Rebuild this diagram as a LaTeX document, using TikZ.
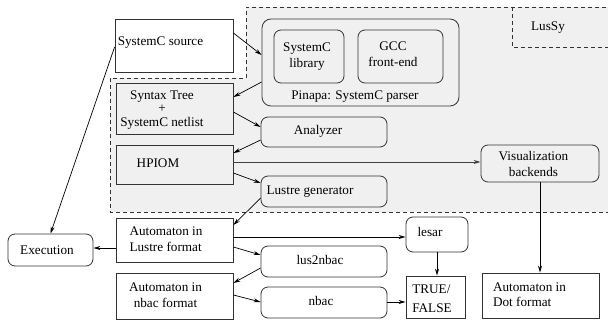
\documentclass[tikz,border=0pt]{standalone}
\usepackage{fontspec}
\setmainfont{Liberation Serif}
\usetikzlibrary{arrows.meta}
\definecolor{bgray}{HTML}{F0F0F0}
\tikzset{
  bx/.style={draw=black!80, line width=0.8pt, inner sep=0pt, minimum width=#1},
  rbx/.style={bx=#1, rounded corners=7pt},
  wfill/.style={fill=white},
  gfill/.style={fill=bgray},
  lbl/.style={inner sep=0pt, font=\fontsize{13.2}{16}\selectfont},
  arr/.style={draw=black, line width=0.7pt, -{Stealth[length=7pt,width=4pt]}},
  dsh/.style={draw=black!80, line width=0.8pt, dash pattern=on 4pt off 3pt}
}
\begin{document}
\begin{tikzpicture}[x=1pt,y=-1pt]
\useasboundingbox (0,0) rectangle (608,320);
% LusSy region
\path[fill=bgray] (246,7) -- (620,7) -- (620,212) -- (110,212) -- (110,78) -- (246,78) -- cycle;
\draw[dsh] (620,7) -- (246,7) -- (246,78) -- (110,78) -- (110,212) -- (620,212);
\draw[dsh] (512,7) -- (512,47) -- (620,47);
\node[lbl] (t-lussy) at (548,28) {LusSy};

% boxes
\node[bx=118pt, minimum height=53pt, wfill] (src) at (174,45.5) {};
\node[bx=117pt, minimum height=51pt, gfill] (syn) at (174.5,108.5) {};
\node[bx=117pt, minimum height=39pt, gfill] (hpiom) at (174.5,164.5) {};
\node[rbx=197pt, minimum height=87pt, rounded corners=9pt] (pinapa) at (360.5,62.5) {};
\node[rbx=70pt, minimum height=53pt] (lib) at (309,56.5) {};
\node[rbx=85pt, minimum height=53pt] (gcc) at (400.5,56.5) {};
\node[rbx=126pt, minimum height=30pt] (ana) at (324,132) {};
\node[rbx=126pt, minimum height=31pt] (lgen) at (324,191.5) {};
\node[rbx=118pt, minimum height=37pt] (viz) at (540,163.5) {};
\node[rbx=85pt, minimum height=32pt] (exe) at (50.5,250) {};
\node[bx=117pt, minimum height=44pt] (alus) at (174.5,240) {};
\node[bx=117pt, minimum height=46pt] (anbac) at (174.5,296) {};
\node[rbx=126pt, minimum height=31pt] (l2n) at (324,261.5) {};
\node[rbx=126pt, minimum height=31pt] (nbac) at (324,302.5) {};
\node[rbx=62pt, minimum height=35pt] (lesar) at (437,234.5) {};
\node[bx=59pt, minimum height=42pt] (tf) at (435.5,297) {};
\node[bx=117pt, minimum height=45pt] (dot) at (540.5,295.5) {};

% labels
\node[lbl] (t-src) at (160.5,43) {SystemC source};
\node[lbl, align=center, font=\fontsize{13.2}{13.5}\selectfont] (t-syn) at (162,110) {Syntax Tree\\+\\SystemC netlist};
\node[lbl] (t-hpiom) at (158,163) {HPIOM};
\node[lbl, align=center] (t-lib) at (307,57) {SystemC\\library};
\node[lbl, align=center] (t-gcc) at (393,54.5) {GCC\\front-end};
\node[lbl] (t-pinapa) at (355,97) {Pinapa: SystemC parser};
\node[lbl] (t-ana) at (318,131) {Analyzer};
\node[lbl] (t-lgen) at (310,192) {Lustre generator};
\node[lbl, align=center] (t-viz) at (533.5,163.5) {Visualization\\backends};
\node[lbl] (t-exe) at (47,250) {Execution};
\node[lbl, align=left] (t-alus) at (166,239) {Automaton in\\Lustre format};
\node[lbl, align=center] (t-anbac) at (165.5,295) {Automaton in\\nbac format};
\node[lbl] (t-l2n) at (320,260) {lus2nbac};
\node[lbl] (t-nbac) at (321,301) {nbac};
\node[lbl] (t-lesar) at (430,232) {lesar};
\node[lbl, align=left, font=\fontsize{13.2}{19}\selectfont] (t-tf) at (432,298.5) {TRUE/\\FALSE};
\node[lbl, align=left, font=\fontsize{13.2}{15}\selectfont] (t-dot) at (529.5,294.5) {Automaton in\\Dot format};

% connectors
\draw[arr] (src.east |- 0,33) -- (pinapa.west |- 0,55);
\draw[arr] (pinapa.west |- 0,82) -- (syn.east |- 0,97);
\draw[arr] (syn.east |- 0,112) -- (ana.west |- 0,127);
\draw[arr] (ana.west |- 0,140) -- (hpiom.east |- 0,153);
\draw[arr, draw=black!75, line width=0.9pt] (hpiom.east |- 0,162) -- (viz.west |- 0,162);
\draw[arr] (hpiom.east |- 0,173) -- (lgen.west |- 0,183);
\draw[arr] (lgen.west |- 0,198) -- (alus.east |- 0,225);
\draw[arr] (alus.west |- 0,248) -- (exe.east |- 0,248);
\draw[arr] (alus.east |- 0,237) -- (lesar.west |- 0,237);
\draw[arr] (alus.east |- 0,247) -- (l2n.west |- 0,255);
\draw[arr] (l2n.west |- 0,268) -- (anbac.east |- 0,283);
\draw[arr] (anbac.east |- 0,295) -- (nbac.west |- 0,302);
\draw[arr] (nbac.east |- 0,302) -- (tf.west |- 0,302);
\draw[arr] (lesar.south) -- (lesar.south |- tf.north);
\draw[arr] (viz.south) -- (viz.south |- dot.north);
\draw[arr] (src.west |- 0,47) -- (exe.north);
\end{tikzpicture}
\end{document}
